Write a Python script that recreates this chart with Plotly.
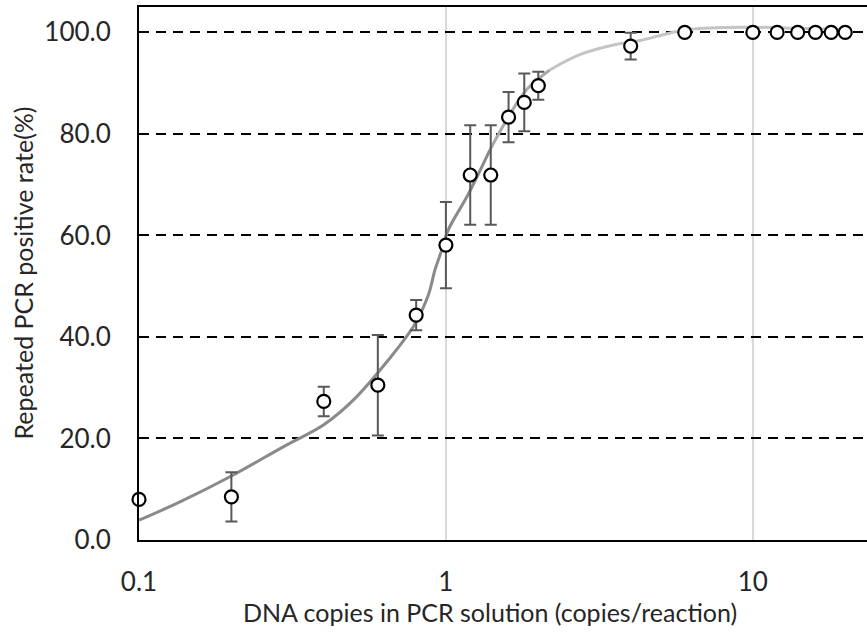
import plotly.graph_objects as go

# Observed data
copies = [0.1, 0.2, 0.4, 0.6, 0.8, 1, 1.2, 1.4, 1.6, 1.8, 2, 4, 6, 10, 12, 14, 16, 18, 20]
rate = [8.0, 8.5, 27.3, 30.5, 44.3, 58.1, 71.9, 71.9, 83.3, 86.2, 89.5, 97.3, 100, 100, 100, 100, 100, 100, 100]
err = [0, 4.85, 2.9, 9.9, 3.0, 8.5, 9.8, 9.8, 4.95, 5.7, 2.75, 2.65, 0, 0, 0, 0, 0, 0, 0]

# Fitted curve
curve_x = [0.1, 0.136, 0.2, 0.3, 0.4, 0.5, 0.65, 0.79, 0.877, 0.921, 0.969, 1.018,
           1.18, 1.39, 1.6, 1.83, 2.18, 2.73, 3.51, 4.29, 6.1, 9.8, 14, 20]
curve_y = [3.9, 7.5, 12.6, 18.6, 22.7, 27.6, 35.5, 42.4, 48.3, 53.2, 57.1, 61.1,
           68.0, 76.8, 83.4, 88.7, 92.6, 95.6, 97.5, 98.4, 100.5, 101.0, 100.8, 100.5]

x_ticks = [0.1, 1, 10]
x_tick_text = ["0.1", "1", "10"]
y_ticks = [0, 20, 40, 60, 80, 100]
y_tick_text = ["0.0", "20.0", "40.0", "60.0", "80.0", "100.0"]

x_title = "DNA copies in PCR solution (copies/reaction)"
y_title = "Repeated PCR positive rate(%)"

FONT = "Lato"
TXT = "#262626"
fig = go.Figure()

# curve drawn in segments with a grey gradient
segments = [(0, 14, "#8a8a8a"), (13, 17, "#a9a9a9"), (16, 24, "#c4c4c4")]
for a, b, col in segments:
    fig.add_trace(go.Scatter(x=curve_x[a:b], y=curve_y[a:b], mode="lines",
                             line=dict(color=col, width=3, shape="spline"),
                             showlegend=False, hoverinfo="skip"))

fig.add_trace(go.Scatter(
    x=copies, y=rate, mode="markers",
    marker=dict(symbol="circle", size=13, color="white", line=dict(color="black", width=2.2)),
    error_y=dict(type="data", array=err, visible=True, color="#595959", thickness=2, width=6),
    showlegend=False, cliponaxis=False))

fig.update_layout(
    width=867, height=635,
    margin=dict(l=139, r=0, t=7, b=95),
    paper_bgcolor="white", plot_bgcolor="white",
    font=dict(family=FONT, size=26, color=TXT),
    xaxis=dict(type="log", range=[-1, 1.372], tickvals=x_ticks, ticktext=x_tick_text,
               showgrid=True, gridcolor="#d9d9d9", gridwidth=2,
               showline=True, linecolor="black", linewidth=2, mirror=True,
               ticks="", ticklabelstandoff=18, zeroline=False),
    yaxis=dict(range=[0, 105], tickvals=y_ticks, ticktext=y_tick_text,
               showgrid=True, gridcolor="black", gridwidth=2, griddash="10px,7px",
               showline=True, linecolor="black", linewidth=2,
               ticks="", ticklabelstandoff=21, zeroline=False),
    annotations=[
        dict(text=x_title, xref="paper", yref="paper", x=(490 - 139) / 728, y=-(612 - 540) / 533,
             xanchor="center", yanchor="middle", showarrow=False, font=dict(family=FONT, size=25, color=TXT)),
        dict(text=y_title, xref="paper", yref="paper", x=-(139 - 22) / 728, y=0.5, textangle=-90,
             xanchor="center", yanchor="middle", showarrow=False, font=dict(family=FONT, size=25, color=TXT)),
    ],
)

fig.write_html("out.html")
